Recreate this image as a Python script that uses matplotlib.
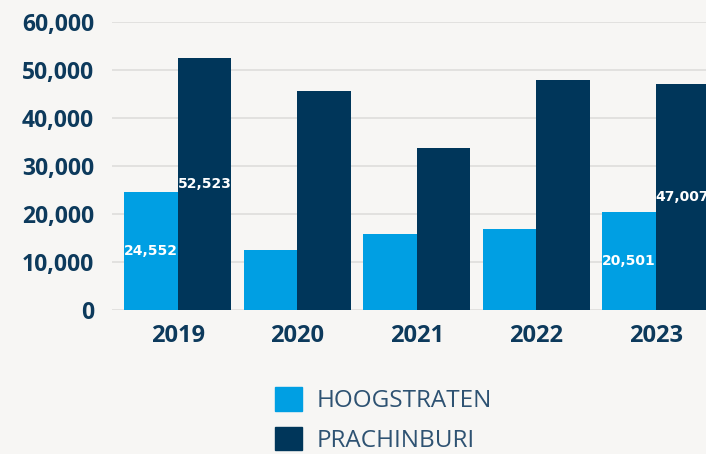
import numpy as np
import matplotlib.pyplot as plt
from matplotlib.patches import Patch

years = ["2019", "2020", "2021", "2022", "2023"]
hoogstraten = [24552, 12500, 15800, 16900, 20501]
prachinburi = [52523, 45600, 33750, 47900, 47007]
# only these bars carry a value label
labelled = [0, 4]

light = "#009FE3"
dark = "#00365A"
navy = "#0D3A5C"
bg = "#F7F6F4"

fig = plt.figure(figsize=(7.06, 4.54), dpi=100, facecolor=bg)
ax = fig.add_axes([112 / 706, 144 / 454, 609.5 / 706, 288 / 454])
ax.set_facecolor(bg)

x = np.arange(len(years))
w = 0.447
b1 = ax.bar(x - w / 2, hoogstraten, w, color=light, zorder=3, clip_on=False)
b2 = ax.bar(x + w / 2, prachinburi, w, color=dark, zorder=3, clip_on=False)

for i in labelled:
    for bars, vals in ((b1, hoogstraten), (b2, prachinburi)):
        r = bars[i]
        ax.text(r.get_x() + r.get_width() / 2, vals[i] / 2, f"{vals[i]:,}",
                ha="center", va="center", color="white", fontsize=10,
                fontweight="bold", zorder=4)

ax.set_xlim(-0.55, 4.55)
ax.set_ylim(0, 60000)
ax.set_yticks(range(0, 60001, 10000))
ax.set_yticklabels([f"{v:,}" for v in range(0, 60001, 10000)])
ax.set_xticks(x)
ax.set_xticklabels(years)
ax.grid(axis="y", color="#E2E1DF", linewidth=1.4, zorder=0)
for s in ax.spines.values():
    s.set_visible(False)
ax.tick_params(axis="both", length=0, colors=navy)
ax.tick_params(axis="y", pad=13)
ax.tick_params(axis="x", pad=10)
for t in ax.get_yticklabels():
    t.set_fontproperties({"family": "Open Sans", "weight": "bold", "size": 16.5})
for t in ax.get_xticklabels():
    t.set_fontproperties({"family": "Open Sans", "weight": "bold", "size": 17})

handles = [Patch(color=light, label="HOOGSTRATEN"),
           Patch(color=dark, label="PRACHINBURI")]
leg = fig.legend(handles=handles, loc="upper left",
                 bbox_to_anchor=(275 / 706, 1 - 387 / 454),
                 frameon=False, handlelength=1.12, handleheight=1.12,
                 handletextpad=0.6, labelspacing=0.56,
                 borderpad=0, borderaxespad=0,
                 prop={"family": "Open Sans", "size": 17.5})
for t in leg.get_texts():
    t.set_color("#2E5272")

fig.savefig("out.png", dpi=100, facecolor=bg)
